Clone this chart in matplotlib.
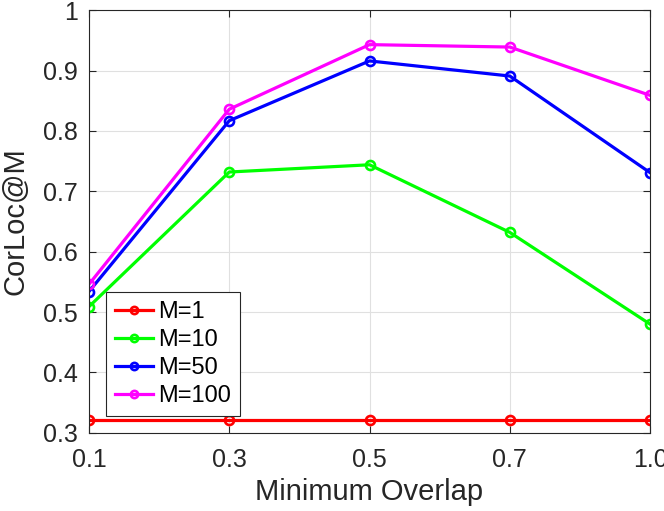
import matplotlib
matplotlib.use("Agg")
import matplotlib.pyplot as plt
import numpy as np

plt.rcParams['font.family'] = ['Liberation Sans', 'DejaVu Sans']

# minimum overlap thresholds (plotted at equal spacing)
overlap_labels = ['0.1', '0.3', '0.5', '0.7', '1.0']
m1 = [0.322, 0.322, 0.322, 0.322, 0.322]
m10 = [0.509, 0.732, 0.744, 0.632, 0.480]
m50 = [0.534, 0.817, 0.916, 0.891, 0.731]
m100 = [0.546, 0.836, 0.943, 0.939, 0.859]

series = [('M=1', m1, '#ff0000'),
          ('M=10', m10, '#00ff00'),
          ('M=50', m50, '#0000ff'),
          ('M=100', m100, '#ff00ff')]

fig = plt.figure(figsize=(6.64, 5.11), dpi=100)
ax = fig.add_axes([0.134, 0.153, 0.845, 0.827])

x = np.arange(len(overlap_labels))
for name, vals, col in series:
    ax.plot(x, vals, color=col, linewidth=2.3, marker='o', markersize=6.5,
            markerfacecolor='none', markeredgewidth=1.9, label=name)

ax.set_xlim(0, len(overlap_labels) - 1)
ax.set_ylim(0.3, 1.0)
ax.set_xticks(x)
ax.set_xticklabels(overlap_labels)
yt = [0.3, 0.4, 0.5, 0.6, 0.7, 0.8, 0.9, 1.0]
ax.set_yticks(yt)
ax.set_yticklabels(['0.3', '0.4', '0.5', '0.6', '0.7', '0.8', '0.9', '1'])

ax.grid(True, color='#e0e0e0', linewidth=0.8)
ax.set_axisbelow(True)
ax.tick_params(direction='in', top=True, right=True, labelsize=18,
               colors='#262626', length=5, width=0.8)
ax.tick_params(axis='x', pad=11)
ax.tick_params(axis='y', pad=8)
for s in ax.spines.values():
    s.set_color('#262626')
    s.set_linewidth(0.8)

ax.set_xlabel('Minimum Overlap', fontsize=21, color='#262626', labelpad=4)
ax.set_ylabel('CorLoc@M', fontsize=21, color='#262626', labelpad=10)

leg = ax.legend(loc='lower left', bbox_to_anchor=(0.030, 0.039), fontsize=17,
                fancybox=False, framealpha=1, edgecolor='#262626',
                handlelength=1.6, handletextpad=0.2, borderpad=0.4,
                labelspacing=0.25, borderaxespad=0, markerscale=0.8)
leg.get_frame().set_linewidth(0.8)

fig.savefig('out.png', dpi=100)
